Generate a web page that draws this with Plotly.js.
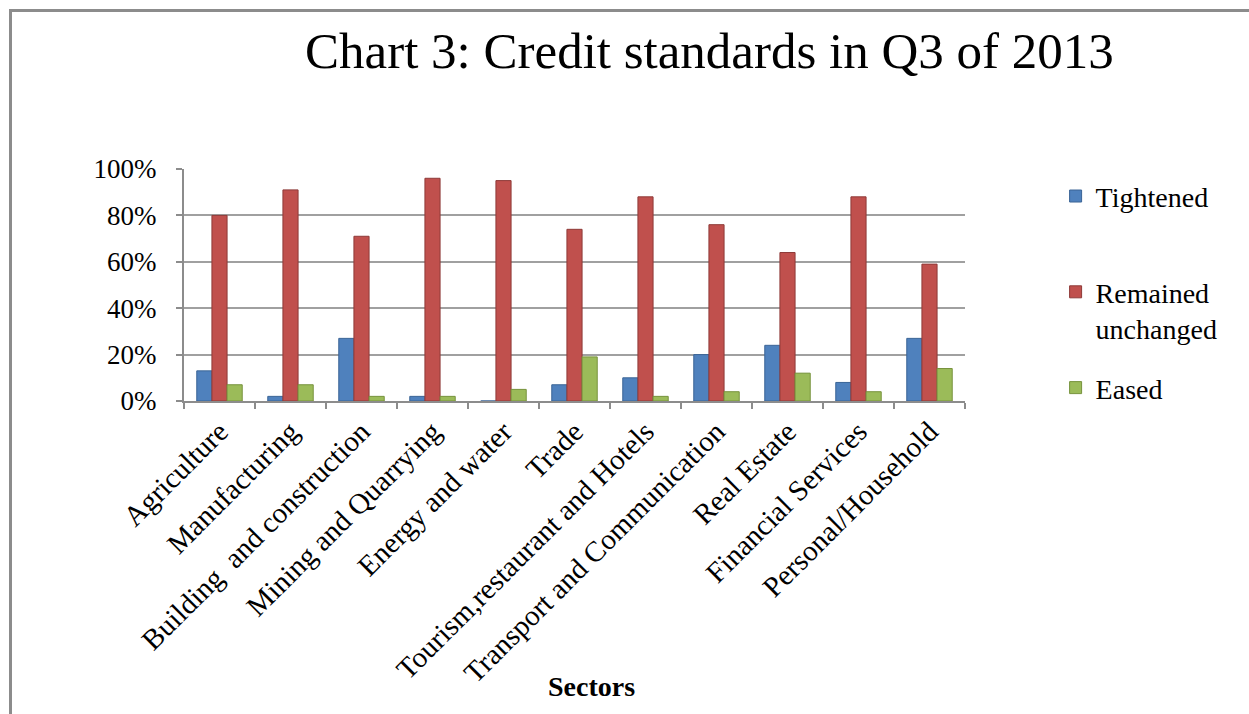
<!DOCTYPE html>
<html>
<head>
<meta charset="utf-8">
<script src="https://cdn.plot.ly/plotly-3.0.1.min.js"></script>
<style>
  html, body { margin: 0; padding: 0; background: #ffffff; }
  #chart { width: 1249px; height: 714px; }
  #frame { position: absolute; left: 9px; top: 9px; width: 1260px; height: 720px;
           border-top: 3px solid #8c8c8c; border-left: 3px solid #8c8c8c; pointer-events: none; }
</style>
</head>
<body>
<div id="chart"></div>
<div id="frame"></div>
<script>
const sectors = ["Agriculture", "Manufacturing", "Building  and construction", "Mining and Quarrying",
  "Energy and water", "Trade", "Tourism,restaurant and Hotels", "Transport and Communication",
  "Real Estate", "Financial Services", "Personal/Household"];
const tightened = [13, 2, 27, 2, 0, 7, 10, 20, 24, 8, 27];
const remainedUnchanged = [80, 91, 71, 96, 95, 74, 88, 76, 64, 88, 59];
const eased = [7, 7, 2, 2, 5, 19, 2, 4, 12, 4, 14];
const seriesNames = ["Tightened<br> ", "Remained<br>unchanged", "Eased"];
const yTicks = [0, 20, 40, 60, 80, 100];
const yTickText = yTicks.map(v => v + "%");

const serif = "Liberation Serif, Times New Roman, serif";
const colors = ["#4F81BD", "#C0504D", "#9BBB59"];
const edge = ["#3A6496", "#8E3A38", "#76923C"];
const vals = [tightened, remainedUnchanged, eased];

const traces = vals.map((v, i) => ({
  type: "bar",
  x: sectors,
  y: v,
  name: seriesNames[i],
  legendgroup: "g" + i,
  marker: { color: colors[i], line: { color: edge[i], width: 1 } },
  hoverinfo: "x+y+name"
}));

const layout = {
  width: 1249, height: 714,
  paper_bgcolor: "#ffffff", plot_bgcolor: "#ffffff",
  margin: { l: 184, r: 284, t: 169, b: 313 },
  barmode: "group", bargap: 0.36, bargroupgap: 0,
  title: { text: "Chart 3: Credit standards in Q3 of 2013",
           font: { family: serif, size: 51, color: "#000000" },
           x: 0.568, xanchor: "center", y: 0.93, yanchor: "middle" },
  xaxis: {
    tickangle: -45, tickfont: { family: serif, size: 29, color: "#000000" },
    showline: true, linecolor: "#8c8c8c", linewidth: 2,
    ticks: "outside", ticklen: 6, tickcolor: "#8c8c8c", tickwidth: 2, tickson: "boundaries",
    showgrid: false, automargin: false, fixedrange: true
  },
  yaxis: {
    range: [0, 100], tickvals: yTicks, ticktext: yTickText,
    tickfont: { family: serif, size: 27, color: "#000000" },
    showline: true, linecolor: "#8c8c8c", linewidth: 2,
    ticks: "outside", ticklen: 6, tickcolor: "#8c8c8c", tickwidth: 2,
    ticklabelstandoff: 14,
    showgrid: true, gridcolor: "#a0a0a0", gridwidth: 2,
    zeroline: false, automargin: false, fixedrange: true
  },
  legend: {
    x: 1.116, xanchor: "left", y: 0.99, yanchor: "top",
    font: { family: serif, size: 28, color: "#000000" },
    tracegroupgap: 20, valign: "top", itemwidth: 30, bgcolor: "rgba(0,0,0,0)"
  },
  annotations: [{
    text: "Sectors", xref: "paper", yref: "paper", x: 0.522, y: -1.23,
    xanchor: "center", yanchor: "middle", showarrow: false,
    font: { family: serif, size: 28, color: "#000000", weight: "bold" }
  }]
};

Plotly.newPlot("chart", traces, layout, { displayModeBar: false, staticPlot: true });
</script>
</body>
</html>
